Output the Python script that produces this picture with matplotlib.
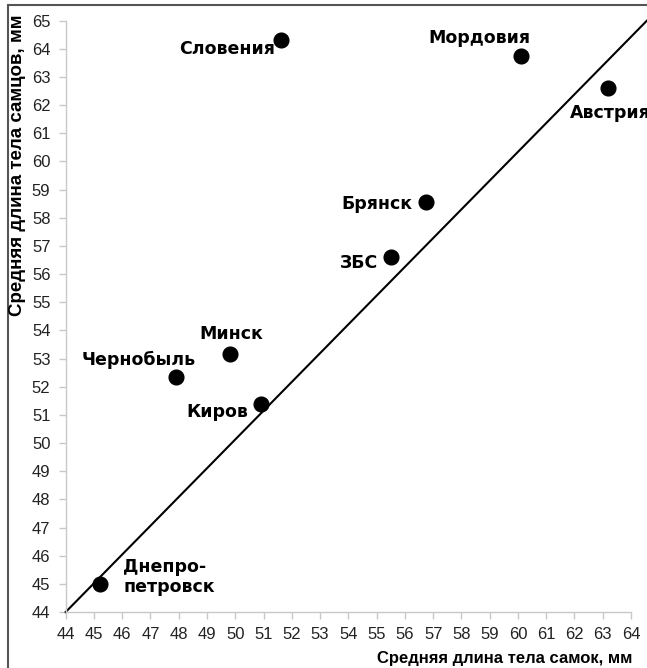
import matplotlib.pyplot as plt
from matplotlib.patches import Rectangle

# Data: mean body length, females (x) vs males (y), mm
regions = ['Словения', 'Мордовия', 'Австрия', 'Брянск', 'ЗБС',
           'Минск', 'Чернобыль', 'Киров', 'Днепро-\nпетровск']
female_len = [51.6, 60.1, 63.2, 56.75, 55.5, 49.8, 47.9, 50.9, 45.2]
male_len = [64.3, 63.75, 62.6, 58.55, 56.6, 53.15, 52.35, 51.4, 45.0]

# trend line ends
trend_x = [44, 64.56]
trend_y = [44, 65]

# label offsets (points) and alignment for each point
offsets = [(-4, -6), (-30, 13), (-28, -18), (-10, -1), (-9, -4),
           (1.5, 15), (14, 12), (-9, -6), (17, 5)]
aligns = ['right', 'center', 'left', 'right', 'right',
          'center', 'right', 'right', 'left']

fig = plt.figure(figsize=(6.47, 6.68), dpi=100)
ax = fig.add_axes([0.1015, 0.0838, 0.8738, 0.8852])

ax.plot(trend_x, trend_y, color='black', lw=1.5, clip_on=False, zorder=2)
ax.scatter(female_len, male_len, s=112, color='black', zorder=3, clip_on=False)

for name, x, y, off, ha in zip(regions, female_len, male_len, offsets, aligns):
    ax.annotate(name, (x, y), xytext=off, textcoords='offset points',
                ha=ha, va='center', fontsize=12.5, fontweight='bold',
                family='DejaVu Sans', linespacing=1.1, annotation_clip=False)

ax.set_xlim(44, 64)
ax.set_ylim(44, 65)
ax.set_xticks(range(44, 65))
ax.set_yticks(range(44, 66))

for side in ['top', 'right']:
    ax.spines[side].set_visible(False)
for side in ['left', 'bottom']:
    ax.spines[side].set_color('#c8c8c8')
    ax.spines[side].set_linewidth(1)
ax.tick_params(direction='out', length=5, color='#c8c8c8', width=1,
               labelsize=12, labelcolor='#222222', pad=6)
for lbl in ax.get_xticklabels() + ax.get_yticklabels():
    lbl.set_family('Liberation Sans')

fig.text(18 / 647, 1 - 14 / 668, 'Средняя длина тела самцов, мм', rotation=90,
         ha='center', va='top', fontsize=13.5, fontweight='bold', family='Liberation Sans')
fig.text(632 / 647, 1 - 658 / 668, 'Средняя длина тела самок, мм',
         ha='right', va='center', fontsize=12, fontweight='bold', family='Liberation Sans')

# outer frame
fig.patches.append(Rectangle((8 / 647, -0.05), 1.2, 1 - 5 / 668 + 0.05,
                             transform=fig.transFigure, fill=False,
                             edgecolor='#555555', lw=1.5))

fig.savefig('out.png', dpi=100)
